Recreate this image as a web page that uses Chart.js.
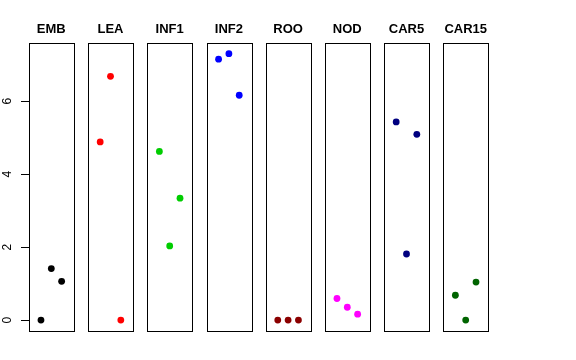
<!DOCTYPE html>
<html>
<head>
<meta charset="utf-8">
<script src="https://cdn.jsdelivr.net/npm/chart.js@4"></script>
<style>
  body { margin: 0; background: #fff; }
  #wrap { position: relative; width: 576px; height: 360px; }
  #wrap canvas { position: absolute; left: 0; top: 0; }
</style>
</head>
<body>
<div id="wrap"></div>
<script>
// panel names and the three values shown in each panel
const panelNames = ['EMB', 'LEA', 'INF1', 'INF2', 'ROO', 'NOD', 'CAR5', 'CAR15'];
const embVals   = [0, 1.41, 1.06];
const leaVals   = [4.88, 6.68, 0];
const inf1Vals  = [4.62, 2.03, 3.34];
const inf2Vals  = [7.15, 7.30, 6.16];
const rooVals   = [0, 0, 0];
const nodVals   = [0.59, 0.35, 0.16];
const car5Vals  = [5.43, 1.81, 5.09];
const car15Vals = [0.68, 0, 1.04];
const yTicks = [0, 2, 4, 6];

const panelVals = [embVals, leaVals, inf1Vals, inf2Vals, rooVals, nodVals, car5Vals, car15Vals];
const panelColors = ['#000000', '#FF0000', '#00CD00', '#0000FF', '#8B0000', '#FF00FF', '#000080', '#006400'];

const W = 576, H = 360;
const boxW = 44.6, step = 59.2, firstLeft = 29;

// draws the frame around each panel
const boxPlugin = {
  id: 'box',
  afterDraw(chart) {
    const a = chart.chartArea, ctx = chart.ctx;
    ctx.save();
    ctx.strokeStyle = '#000';
    ctx.lineWidth = 1;
    ctx.strokeRect(Math.round(a.left) + 0.5, Math.round(a.top) + 0.5,
      Math.round(a.right - a.left), Math.round(a.bottom - a.top));
    ctx.restore();
  }
};

const wrap = document.getElementById('wrap');

panelNames.forEach((name, i) => {
  const cv = document.createElement('canvas');
  cv.width = W; cv.height = H;
  cv.style.width = W + 'px'; cv.style.height = H + 'px';
  wrap.appendChild(cv);

  const left = firstLeft + i * step;
  const right = W - (left + boxW);
  const first = i === 0;

  const yScale = {
    type: 'linear',
    min: -0.292, max: 7.592,
    display: first
  };
  if (first) {
    Object.assign(yScale, {
      position: 'left',
      afterBuildTicks: (s) => { s.ticks = yTicks.map(v => ({ value: v })); },
      afterFit: (s) => { s.width = firstLeft; },
      border: { display: false },
      grid: { display: true, drawOnChartArea: false, drawTicks: true, tickLength: 8, color: '#000', lineWidth: 1 },
      ticks: {
        color: '#000',
        minRotation: 90, maxRotation: 90,
        crossAlign: 'center',
        padding: 10,
        font: { family: 'Liberation Sans, Arial, sans-serif', size: 12 }
      }
    });
  }

  new Chart(cv, {
    type: 'scatter',
    data: {
      datasets: [{
        data: panelVals[i].map((v, k) => ({ x: k + 1, y: v })),
        backgroundColor: panelColors[i],
        borderColor: panelColors[i],
        pointRadius: 3.4,
        pointBorderWidth: 0
      }]
    },
    options: {
      responsive: false,
      animation: false,
      events: [],
      layout: { padding: { left: first ? 0 : left, right: right, top: 0, bottom: 29.3 } },
      plugins: {
        legend: { display: false },
        tooltip: { enabled: false },
        title: {
          display: true,
          text: name,
          fullSize: false,
          color: '#000',
          font: { family: 'Liberation Sans, Arial, sans-serif', size: 13, weight: 'bold' },
          padding: { top: 22, bottom: 5.4 }
        }
      },
      scales: {
        x: { type: 'linear', min: -0.16, max: 4.16, display: false },
        y: yScale
      }
    },
    plugins: [boxPlugin]
  });
});
</script>
</body>
</html>
